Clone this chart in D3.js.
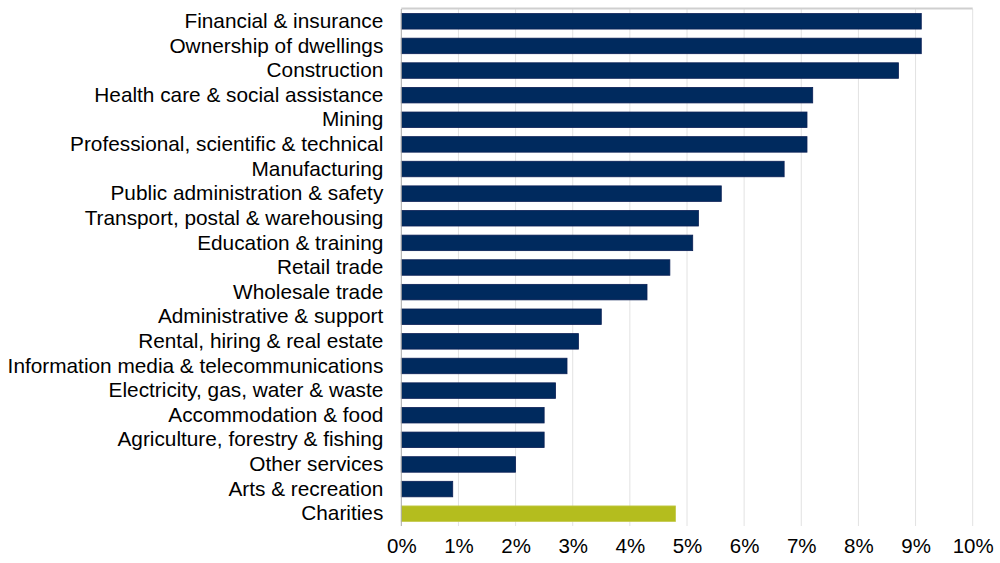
<!DOCTYPE html>
<html><head><meta charset="utf-8">
<script src="https://cdn.jsdelivr.net/npm/d3@7"></script>
<style>body{margin:0;background:#fff}svg{display:block}</style>
</head><body><svg id="c" width="1000" height="563"></svg>
<script>
const categories = ["Financial & insurance","Ownership of dwellings","Construction","Health care & social assistance","Mining","Professional, scientific & technical","Manufacturing","Public administration & safety","Transport, postal & warehousing","Education & training","Retail trade","Wholesale trade","Administrative & support","Rental, hiring & real estate","Information media & telecommunications","Electricity, gas, water & waste","Accommodation & food","Agriculture, forestry & fishing","Other services","Arts & recreation","Charities"];
const values = [9.1,9.1,8.7,7.2,7.1,7.1,6.7,5.6,5.2,5.1,4.7,4.3,3.5,3.1,2.9,2.7,2.5,2.5,2.0,0.9,4.8];
const highlight = ["Charities"];
const tickValues = [0,1,2,3,4,5,6,7,8,9,10];
const tickLabels = ["0%","1%","2%","3%","4%","5%","6%","7%","8%","9%","10%"];

const svg = d3.select("#c");
const font = "'Liberation Sans', Arial, sans-serif";
const x = d3.scaleLinear().domain([0,10]).range([401.3,972.7]);
const y = d3.scaleBand().domain(categories).range([9,526]).paddingInner(0.37).paddingOuter(0.185);

// gridlines
svg.append("g").selectAll("line").data(tickValues.slice(1)).join("line")
  .attr("x1",d=>x(d)).attr("x2",d=>x(d)).attr("y1",9).attr("y2",526)
  .attr("stroke","#e2e2e2").attr("stroke-width",1);
// top border
svg.append("line").attr("x1",x(0)).attr("x2",x(10)).attr("y1",8.5).attr("y2",8.5)
  .attr("stroke","#cfcfcf").attr("stroke-width",2);

// bars
svg.append("g").selectAll("rect").data(categories).join("rect")
  .attr("x",x(0)).attr("y",d=>y(d))
  .attr("width",(d,i)=>x(values[i])-x(0)).attr("height",y.bandwidth())
  .attr("fill",d=>highlight.includes(d)?"#b4bd1e":"#002a5e")
  .attr("stroke",d=>highlight.includes(d)?"#c3c94a":"#0a1f55").attr("stroke-width",0.8);

// left axis line
svg.append("line").attr("x1",x(0)).attr("x2",x(0)).attr("y1",9).attr("y2",526)
  .attr("stroke","#a8a8a8").attr("stroke-width",1);

// category labels
const yAxis = d3.axisLeft(y).tickSize(0).tickPadding(18);
const gy = svg.append("g").attr("transform",`translate(${x(0)},0)`).call(yAxis);
gy.select(".domain").remove();
gy.selectAll("text").attr("font-family",font).attr("font-size",20.8).attr("fill","#000");

// x axis labels
const xAxis = d3.axisBottom(x).tickValues(tickValues).tickFormat((d,i)=>tickLabels[i]).tickSize(0).tickPadding(12);
const gx = svg.append("g").attr("transform","translate(0,526)").call(xAxis);
gx.select(".domain").remove();
gx.selectAll("text").attr("font-family",font).attr("font-size",20.5).attr("fill","#000");
</script></body></html>
